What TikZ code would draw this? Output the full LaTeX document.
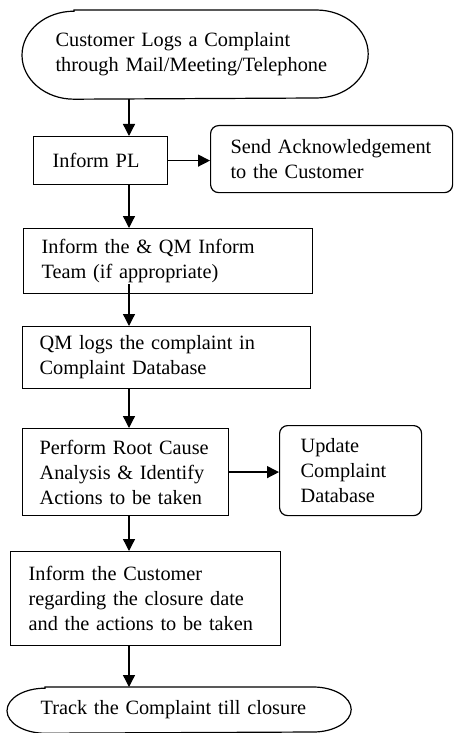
\documentclass[tikz,border=0pt]{standalone}
\usepackage{fontspec}
\setmainfont{Liberation Serif}
\usetikzlibrary{arrows.meta}
\begin{document}
\begin{tikzpicture}[x=1pt,y=1pt,
  line/.style={line width=1.2pt},
  box/.style={line, draw, rectangle, anchor=north west, align=left, inner ysep=0pt,
    font=\fontsize{20.3}{25}\selectfont},
  rbox/.style={box, rounded corners=8pt},
  term/.style={box, draw=none},
  arr/.style={line width=1.3pt, -{Triangle[length=12pt,width=12pt]}}]
\useasboundingbox (0,0) rectangle (453,-733);
\coordinate (spine) at (129,0);

\node[term, minimum width=345pt, minimum height=88pt, inner xsep=33pt, text width=279pt]
  (start) at (22,-10) {Customer Logs a Complaint\\ \mbox{through Mail/Meeting/Telephone}};
\draw[line] ([xshift=52pt]start.north west) -- ([xshift=-52pt]start.north east)
  arc[start angle=90, end angle=-90, x radius=52pt, y radius=44pt]
  -- ([xshift=52pt]start.south west)
  arc[start angle=270, end angle=90, x radius=52pt, y radius=44pt] -- cycle;

\node[box, minimum width=134pt, minimum height=48pt, inner xsep=19pt, text width=96pt]
  (pl) at (33,-136) {Inform PL};
\node[rbox, minimum width=242pt, minimum height=67pt, inner xsep=20pt, text width=202pt]
  (ack) at (210,-125) {\mbox{Send Acknowledgement}\\ to the Customer};
\node[box, minimum width=289pt, minimum height=65pt, inner xsep=18pt, text width=253pt]
  (team) at (23,-228) {Inform the \& QM Inform\\ Team (if appropriate)};
\node[box, minimum width=288pt, minimum height=62pt, inner xsep=17pt, text width=254pt]
  (qm) at (22,-326) {QM logs the complaint in\\ Complaint Database};
\node[box, minimum width=206pt, minimum height=87pt, inner xsep=17pt, text width=172pt]
  (rca) at (22,-428) {\mbox{Perform Root Cause}\\ \makebox[169pt][s]{Analysis \& Identify}\\ Actions to be taken};
\node[rbox, minimum width=142pt, minimum height=90pt, inner xsep=21pt, text width=100pt]
  (upd) at (279,-425) {Update\\ Complaint\\ Database};
\node[box, minimum width=270pt, minimum height=94pt, inner xsep=18pt, text width=234pt]
  (inf) at (10,-551) {Inform the Customer\\ regarding the closure date\\ and the actions to be taken};
\node[term, minimum width=343pt, minimum height=45pt, inner xsep=33pt, text width=277pt]
  (end) at (7,-687) {Track the Complaint till closure};
\draw[line] ([xshift=38pt]end.north west) -- ([xshift=-38pt]end.north east)
  arc[start angle=90, end angle=-90, x radius=38pt, y radius=22.5pt]
  -- ([xshift=38pt]end.south west)
  arc[start angle=270, end angle=90, x radius=38pt, y radius=22.5pt] -- cycle;

\draw[arr] (start.south -| spine) -- (pl.north -| spine);
\draw[arr] (pl.east) -- (ack.west |- pl.east);
\draw[arr] (pl.south -| spine) -- (team.north -| spine);
\draw[arr] ([yshift=10pt]team.south -| spine) -- (qm.north -| spine);
\draw[arr] (qm.south -| spine) -- (rca.north -| spine);
\draw[arr] (rca.east) -- (upd.west |- rca.east);
\draw[arr] (rca.south -| spine) -- (inf.north -| spine);
\draw[arr] (inf.south -| spine) -- (end.north -| spine);
\end{tikzpicture}
\end{document}
